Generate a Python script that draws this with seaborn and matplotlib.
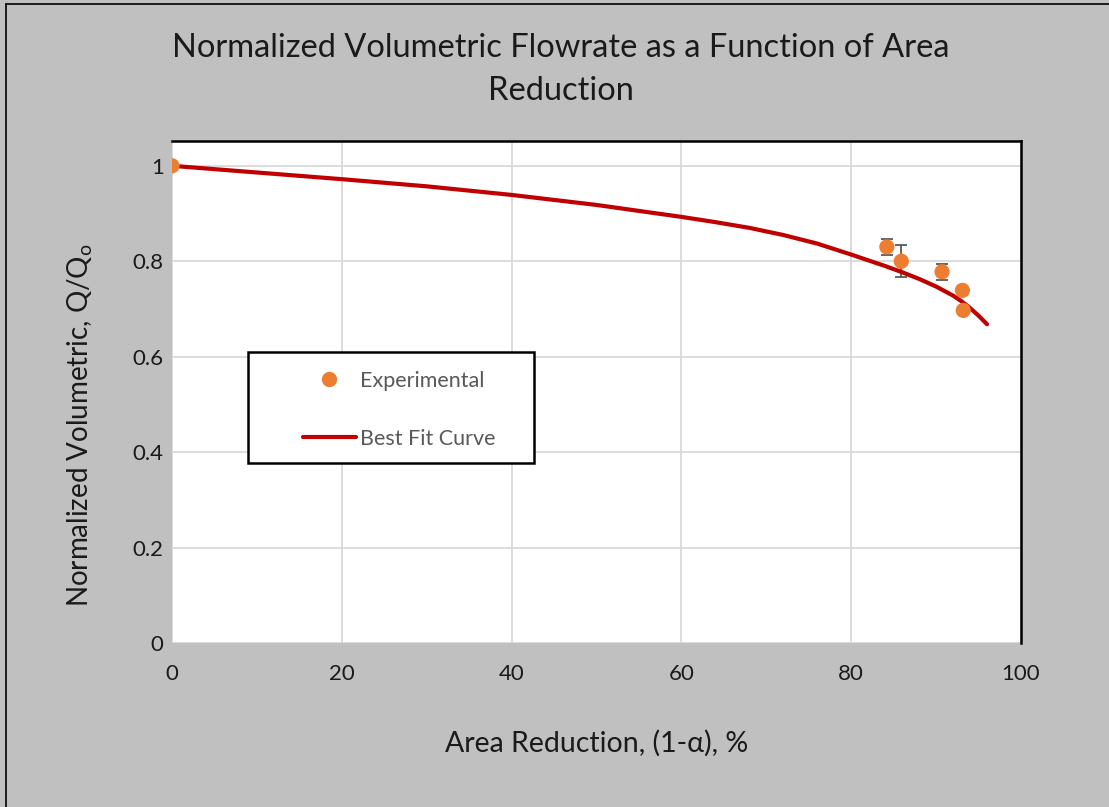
import matplotlib
matplotlib.use("Agg")
import matplotlib.pyplot as plt
import seaborn as sns
import pandas as pd
from matplotlib.lines import Line2D
from matplotlib.patches import Rectangle

# experimental points (area reduction %, Q/Qo, error)
exp_x = [0.0, 84.2, 85.9, 90.7, 93.1, 93.2]
exp_y = [1.0, 0.830, 0.800, 0.778, 0.739, 0.697]
exp_err = [0.0, 0.016, 0.034, 0.017, 0.0, 0.0]

# best fit curve
fit_x = [0, 10, 20, 30, 40, 50, 60, 64, 68, 72, 76, 80, 82, 84, 86, 88, 90,
         92, 93, 94, 95, 96]
fit_y = [1.0, 0.986, 0.972, 0.957, 0.939, 0.918, 0.893, 0.882, 0.870, 0.855,
         0.837, 0.814, 0.802, 0.790, 0.777, 0.763, 0.747, 0.728, 0.716, 0.702,
         0.686, 0.668]

x_ticks = [0, 20, 40, 60, 80, 100]
y_ticks = [0, 0.2, 0.4, 0.6, 0.8, 1.0]
y_tick_labels = ["0", "0.2", "0.4", "0.6", "0.8", "1"]

sns.set_style("white")
plt.rcParams['font.family'] = ['Lato', 'DejaVu Sans']

BG = "#c0c0c0"
ORANGE = "#ed7d31"
RED = "#c00000"
W, H = 1109, 807

fig = plt.figure(figsize=(11.09, 8.07), dpi=100, facecolor=BG)
ax = fig.add_axes([172 / W, 1 - 643 / H, (1021 - 172) / W, (643 - 141) / H])
ax.set_facecolor("white")

exp_df = pd.DataFrame({"x": exp_x, "y": exp_y, "err": exp_err})
fit_df = pd.DataFrame({"x": fit_x, "y": fit_y})

sns.lineplot(data=fit_df, x="x", y="y", ax=ax, color=RED, linewidth=3.0,
             zorder=3, solid_capstyle="round", solid_joinstyle="round")
ax.errorbar(exp_df["x"], exp_df["y"], yerr=exp_df["err"], fmt="none",
            ecolor="#595959", elinewidth=1.3, capsize=4.2, capthick=1.3, zorder=2)
sns.scatterplot(data=exp_df, x="x", y="y", ax=ax, color=ORANGE, s=120,
                edgecolor="none", zorder=4)

ax.set_xlim(0, 100)
ax.set_ylim(0, 1.052)
ax.set_xticks(x_ticks)
ax.set_yticks(y_ticks)
ax.set_yticklabels(y_tick_labels)
ax.grid(True, color="#d9d9d9", linewidth=1.3)
ax.set_axisbelow(True)
for s in ["left", "bottom"]:
    ax.spines[s].set_visible(False)
for s in ["top", "right"]:
    ax.spines[s].set_visible(True)
    ax.spines[s].set_color("black")
    ax.spines[s].set_linewidth(1.8)
ax.tick_params(axis="both", length=0, labelsize=16, colors="#1a1a1a")
ax.tick_params(axis="x", pad=15)
ax.tick_params(axis="y", pad=6)

ax.set_xlabel("Area Reduction, (1-\u03b1), %", fontsize=20.5, color="#1a1a1a")
ax.xaxis.set_label_coords(0.5, -(742 - 643 + 1) / 502)
ax.xaxis.label.set_va("center")
ax.set_ylabel(r"Normalized Volumetric, Q/Q$_\mathregular{o}$", fontsize=20,
              color="#1a1a1a")
ax.yaxis.set_label_coords(-(172 - 95) / 849, (643 - 425) / 502)

fig.text(561 / W, 1 - 69.5 / H,
         "Normalized Volumetric Flowrate as a Function of Area\nReduction",
         ha="center", va="center", fontsize=23.5, color="#1a1a1a", linespacing=1.55)

# legend box drawn as its own rectangle, entries placed inside it
ax.add_patch(Rectangle(((248 - 172) / 849, (643 - 463) / 502), (534 - 248) / 849,
                       (463 - 352) / 502, transform=ax.transAxes, facecolor="white",
                       edgecolor="black", linewidth=1.8, zorder=5))
handles = [
    Line2D([], [], marker="o", linestyle="none", color=ORANGE, markersize=10),
    Line2D([], [], color=RED, linewidth=3.0),
]
leg = ax.legend(handles, ["Experimental", "Best Fit Curve"],
                loc="upper left", bbox_to_anchor=((303 - 172) / 849, (643 - 371) / 502),
                frameon=False, fontsize=15.5, labelcolor="#595959",
                borderpad=0, labelspacing=1.75, handlelength=2.45, handletextpad=0.2,
                borderaxespad=0)
leg.set_zorder(6)

# thin border round the chart
fig.add_artist(Line2D([6 / W, 6 / W], [0, 1 - 4 / H], color="black",
                      linewidth=1.2, transform=fig.transFigure))
fig.add_artist(Line2D([6 / W, 1], [1 - 4 / H, 1 - 4 / H], color="black",
                      linewidth=1.2, transform=fig.transFigure))

fig.savefig("out.png", dpi=100, facecolor=BG)
